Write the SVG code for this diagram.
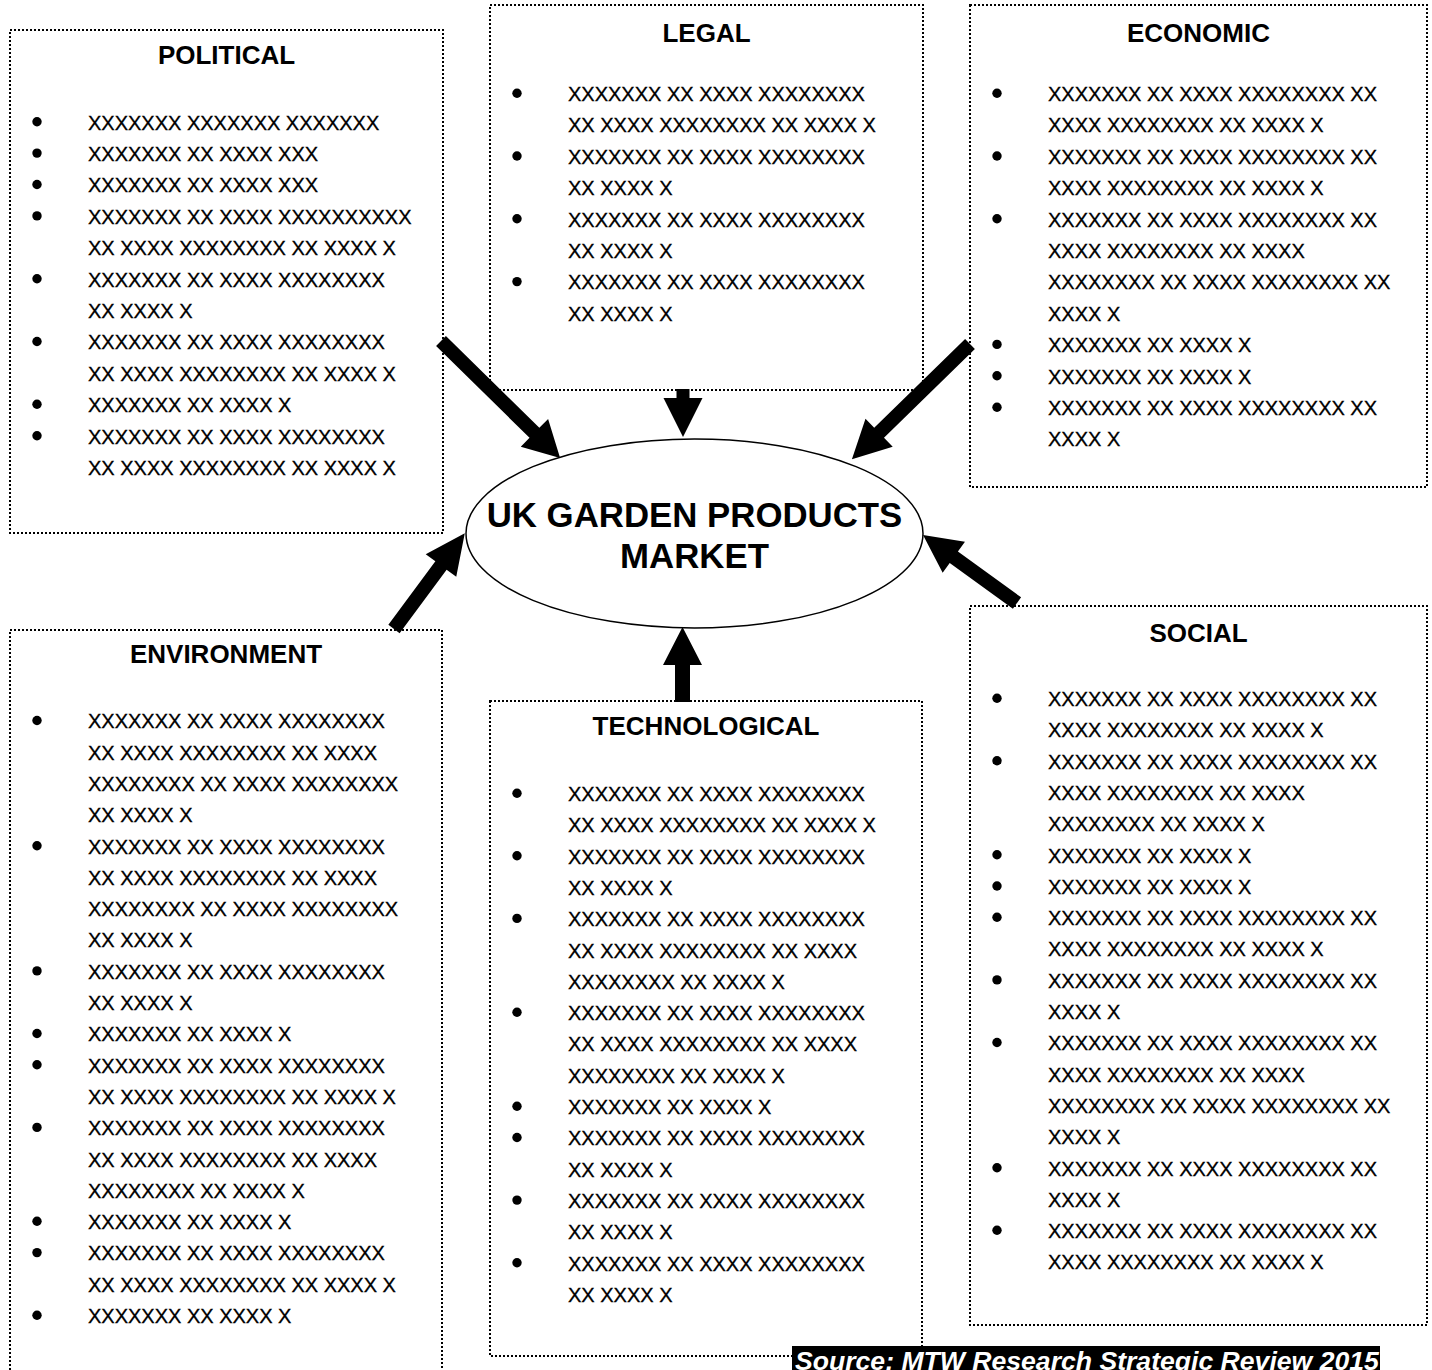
<svg xmlns="http://www.w3.org/2000/svg" width="1432" height="1370" viewBox="0 0 1432 1370">
<style>
.box{fill:#fff;stroke:#000;stroke-width:2;stroke-dasharray:2 2}
.title{font-family:"Liberation Sans",Arial,sans-serif;font-weight:bold;font-size:26px;text-anchor:middle;fill:#000}
.item{font-family:"Liberation Sans",Arial,sans-serif;font-size:20px;fill:#000;stroke:#000;stroke-width:0.3}
.center{font-family:"Liberation Sans",Arial,sans-serif;font-weight:bold;font-size:34.8px;text-anchor:middle;fill:#000}
.src{font-family:"Liberation Sans",Arial,sans-serif;font-weight:bold;font-style:italic;font-size:26.6px;fill:#fff}
.arrow{fill:#000}
</style>
<defs>
<circle id="b" r="4.7" fill="#000"/>
</defs>

<g id="political">
<rect class="box" x="10" y="30" width="433" height="503"/>
<text class="title" x="226.5" y="64">POLITICAL</text>
<g class="item">
<text x="88" y="129.5">XXXXXXX XXXXXXX XXXXXXX</text>
<text x="88" y="160.9">XXXXXXX XX XXXX XXX</text>
<text x="88" y="192.3">XXXXXXX XX XXXX XXX</text>
<text x="88" y="223.7">XXXXXXX XX XXXX XXXXXXXXXX</text>
<text x="88" y="255.1">XX XXXX XXXXXXXX XX XXXX X</text>
<text x="88" y="286.5">XXXXXXX XX XXXX XXXXXXXX</text>
<text x="88" y="317.9">XX XXXX X</text>
<text x="88" y="349.3">XXXXXXX XX XXXX XXXXXXXX</text>
<text x="88" y="380.7">XX XXXX XXXXXXXX XX XXXX X</text>
<text x="88" y="412.1">XXXXXXX XX XXXX X</text>
<text x="88" y="443.5">XXXXXXX XX XXXX XXXXXXXX</text>
<text x="88" y="474.9">XX XXXX XXXXXXXX XX XXXX X</text>
</g>
<use href="#b" x="37" y="121.7"/>
<use href="#b" x="37" y="153.1"/>
<use href="#b" x="37" y="184.5"/>
<use href="#b" x="37" y="215.9"/>
<use href="#b" x="37" y="278.7"/>
<use href="#b" x="37" y="341.5"/>
<use href="#b" x="37" y="404.3"/>
<use href="#b" x="37" y="435.7"/>
</g>

<g id="legal">
<rect class="box" x="490" y="5" width="433" height="385"/>
<text class="title" x="706.5" y="42">LEGAL</text>
<g class="item">
<text x="568" y="101">XXXXXXX XX XXXX XXXXXXXX</text>
<text x="568" y="132.4">XX XXXX XXXXXXXX XX XXXX X</text>
<text x="568" y="163.8">XXXXXXX XX XXXX XXXXXXXX</text>
<text x="568" y="195.2">XX XXXX X</text>
<text x="568" y="226.6">XXXXXXX XX XXXX XXXXXXXX</text>
<text x="568" y="258">XX XXXX X</text>
<text x="568" y="289.4">XXXXXXX XX XXXX XXXXXXXX</text>
<text x="568" y="320.8">XX XXXX X</text>
</g>
<use href="#b" x="517" y="93.2"/>
<use href="#b" x="517" y="156"/>
<use href="#b" x="517" y="218.8"/>
<use href="#b" x="517" y="281.6"/>
</g>

<g id="economic">
<rect class="box" x="970" y="5" width="457" height="482"/>
<text class="title" x="1198.5" y="42">ECONOMIC</text>
<g class="item">
<text x="1048" y="101">XXXXXXX XX XXXX XXXXXXXX XX</text>
<text x="1048" y="132.4">XXXX XXXXXXXX XX XXXX X</text>
<text x="1048" y="163.8">XXXXXXX XX XXXX XXXXXXXX XX</text>
<text x="1048" y="195.2">XXXX XXXXXXXX XX XXXX X</text>
<text x="1048" y="226.6">XXXXXXX XX XXXX XXXXXXXX XX</text>
<text x="1048" y="258">XXXX XXXXXXXX XX XXXX</text>
<text x="1048" y="289.4">XXXXXXXX XX XXXX XXXXXXXX XX</text>
<text x="1048" y="320.8">XXXX X</text>
<text x="1048" y="352.2">XXXXXXX XX XXXX X</text>
<text x="1048" y="383.6">XXXXXXX XX XXXX X</text>
<text x="1048" y="415">XXXXXXX XX XXXX XXXXXXXX XX</text>
<text x="1048" y="446.4">XXXX X</text>
</g>
<use href="#b" x="997" y="93.2"/>
<use href="#b" x="997" y="156"/>
<use href="#b" x="997" y="218.8"/>
<use href="#b" x="997" y="344.4"/>
<use href="#b" x="997" y="375.8"/>
<use href="#b" x="997" y="407.2"/>
</g>

<g id="environment">
<rect class="box" x="10" y="630" width="432" height="760"/>
<text class="title" x="226" y="663">ENVIRONMENT</text>
<g class="item">
<text x="88" y="728.3">XXXXXXX XX XXXX XXXXXXXX</text>
<text x="88" y="759.6">XX XXXX XXXXXXXX XX XXXX</text>
<text x="88" y="790.9">XXXXXXXX XX XXXX XXXXXXXX</text>
<text x="88" y="822.2">XX XXXX X</text>
<text x="88" y="853.5">XXXXXXX XX XXXX XXXXXXXX</text>
<text x="88" y="884.8">XX XXXX XXXXXXXX XX XXXX</text>
<text x="88" y="916.1">XXXXXXXX XX XXXX XXXXXXXX</text>
<text x="88" y="947.4">XX XXXX X</text>
<text x="88" y="978.7">XXXXXXX XX XXXX XXXXXXXX</text>
<text x="88" y="1010">XX XXXX X</text>
<text x="88" y="1041.3">XXXXXXX XX XXXX X</text>
<text x="88" y="1072.6">XXXXXXX XX XXXX XXXXXXXX</text>
<text x="88" y="1103.9">XX XXXX XXXXXXXX XX XXXX X</text>
<text x="88" y="1135.2">XXXXXXX XX XXXX XXXXXXXX</text>
<text x="88" y="1166.5">XX XXXX XXXXXXXX XX XXXX</text>
<text x="88" y="1197.8">XXXXXXXX XX XXXX X</text>
<text x="88" y="1229.1">XXXXXXX XX XXXX X</text>
<text x="88" y="1260.4">XXXXXXX XX XXXX XXXXXXXX</text>
<text x="88" y="1291.7">XX XXXX XXXXXXXX XX XXXX X</text>
<text x="88" y="1323">XXXXXXX XX XXXX X</text>
</g>
<use href="#b" x="37" y="720.5"/>
<use href="#b" x="37" y="845.7"/>
<use href="#b" x="37" y="970.9"/>
<use href="#b" x="37" y="1033.5"/>
<use href="#b" x="37" y="1064.8"/>
<use href="#b" x="37" y="1127.4"/>
<use href="#b" x="37" y="1221.3"/>
<use href="#b" x="37" y="1252.6"/>
<use href="#b" x="37" y="1315.2"/>
</g>

<g id="technological">
<rect class="box" x="490" y="701" width="432" height="655"/>
<text class="title" x="706" y="735">TECHNOLOGICAL</text>
<g class="item">
<text x="568" y="801">XXXXXXX XX XXXX XXXXXXXX</text>
<text x="568" y="832.3">XX XXXX XXXXXXXX XX XXXX X</text>
<text x="568" y="863.6">XXXXXXX XX XXXX XXXXXXXX</text>
<text x="568" y="894.9">XX XXXX X</text>
<text x="568" y="926.2">XXXXXXX XX XXXX XXXXXXXX</text>
<text x="568" y="957.5">XX XXXX XXXXXXXX XX XXXX</text>
<text x="568" y="988.8">XXXXXXXX XX XXXX X</text>
<text x="568" y="1020.1">XXXXXXX XX XXXX XXXXXXXX</text>
<text x="568" y="1051.4">XX XXXX XXXXXXXX XX XXXX</text>
<text x="568" y="1082.7">XXXXXXXX XX XXXX X</text>
<text x="568" y="1114">XXXXXXX XX XXXX X</text>
<text x="568" y="1145.3">XXXXXXX XX XXXX XXXXXXXX</text>
<text x="568" y="1176.6">XX XXXX X</text>
<text x="568" y="1207.9">XXXXXXX XX XXXX XXXXXXXX</text>
<text x="568" y="1239.2">XX XXXX X</text>
<text x="568" y="1270.5">XXXXXXX XX XXXX XXXXXXXX</text>
<text x="568" y="1301.8">XX XXXX X</text>
</g>
<use href="#b" x="517" y="793.2"/>
<use href="#b" x="517" y="855.8"/>
<use href="#b" x="517" y="918.4"/>
<use href="#b" x="517" y="1012.3"/>
<use href="#b" x="517" y="1106.2"/>
<use href="#b" x="517" y="1137.5"/>
<use href="#b" x="517" y="1200.1"/>
<use href="#b" x="517" y="1262.7"/>
</g>

<g id="social">
<rect class="box" x="970" y="606" width="457" height="719"/>
<text class="title" x="1198.5" y="642">SOCIAL</text>
<g class="item">
<text x="1048" y="706">XXXXXXX XX XXXX XXXXXXXX XX</text>
<text x="1048" y="737.3">XXXX XXXXXXXX XX XXXX X</text>
<text x="1048" y="768.6">XXXXXXX XX XXXX XXXXXXXX XX</text>
<text x="1048" y="799.9">XXXX XXXXXXXX XX XXXX</text>
<text x="1048" y="831.2">XXXXXXXX XX XXXX X</text>
<text x="1048" y="862.5">XXXXXXX XX XXXX X</text>
<text x="1048" y="893.8">XXXXXXX XX XXXX X</text>
<text x="1048" y="925.1">XXXXXXX XX XXXX XXXXXXXX XX</text>
<text x="1048" y="956.4">XXXX XXXXXXXX XX XXXX X</text>
<text x="1048" y="987.7">XXXXXXX XX XXXX XXXXXXXX XX</text>
<text x="1048" y="1019">XXXX X</text>
<text x="1048" y="1050.3">XXXXXXX XX XXXX XXXXXXXX XX</text>
<text x="1048" y="1081.6">XXXX XXXXXXXX XX XXXX</text>
<text x="1048" y="1112.9">XXXXXXXX XX XXXX XXXXXXXX XX</text>
<text x="1048" y="1144.2">XXXX X</text>
<text x="1048" y="1175.5">XXXXXXX XX XXXX XXXXXXXX XX</text>
<text x="1048" y="1206.8">XXXX X</text>
<text x="1048" y="1238.1">XXXXXXX XX XXXX XXXXXXXX XX</text>
<text x="1048" y="1269.4">XXXX XXXXXXXX XX XXXX X</text>
</g>
<use href="#b" x="997" y="698.2"/>
<use href="#b" x="997" y="760.8"/>
<use href="#b" x="997" y="854.7"/>
<use href="#b" x="997" y="886"/>
<use href="#b" x="997" y="917.3"/>
<use href="#b" x="997" y="979.9"/>
<use href="#b" x="997" y="1042.5"/>
<use href="#b" x="997" y="1167.7"/>
<use href="#b" x="997" y="1230.3"/>
</g>

<g id="market">
<ellipse cx="694.5" cy="533.5" rx="228.5" ry="94.5" fill="#fff" stroke="#000" stroke-width="1.5"/>
<text class="center" x="694.5" y="527">UK GARDEN PRODUCTS</text>
<text class="center" x="694.5" y="568">MARKET</text>
</g>

<g id="connectors">
<polygon class="arrow" transform="translate(441,341) rotate(44.5)" points="0,-7 131,-7 131,-19.5 167,0 131,19.5 131,7 0,7"/>
<polygon class="arrow" transform="translate(970,344) rotate(135.7)" points="0,-7 127,-7 127,-19.5 165,0 127,19.5 127,7 0,7"/>
<polygon class="arrow" transform="translate(683,389) rotate(90)" points="0,-6.5 9,-6.5 9,-19.5 48,0 9,19.5 9,6.5 0,6.5"/>
<polygon class="arrow" transform="translate(682.5,702) rotate(-90)" points="0,-7.5 37,-7.5 37,-19.5 75,0 37,19.5 37,7.5 0,7.5"/>
<polygon class="arrow" transform="translate(394,629) rotate(-53.5)" points="0,-7 79,-7 79,-19 119,0 79,19 79,7 0,7"/>
<polygon class="arrow" transform="translate(1017,603) rotate(-144.1)" points="0,-7 78,-7 78,-19 116,0 78,19 78,7 0,7"/>
</g>

<g id="source">
<rect x="792" y="1346" width="588" height="30" fill="#000"/>
<text class="src" x="795" y="1370">Source: MTW Research Strategic Review 2015</text>
</g>
</svg>
